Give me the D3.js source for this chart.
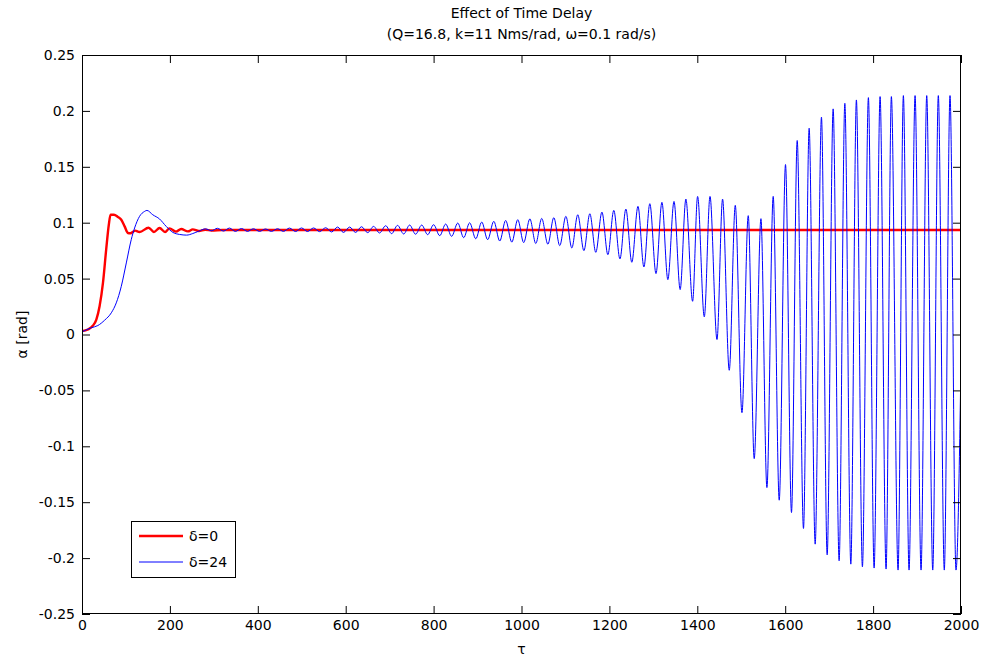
<!DOCTYPE html>
<html><head><meta charset="utf-8">
<script src="https://cdn.jsdelivr.net/npm/d3@7"></script>
<style>
html,body{margin:0;padding:0;background:#fff;}
svg{display:block;font-family:"DejaVu Sans",Verdana,sans-serif;}
</style></head>
<body>
<svg id="chart" width="985" height="659"></svg>
<script>
// ---- data ----
const xTicks = [0, 200, 400, 600, 800, 1000, 1200, 1400, 1600, 1800, 2000];
const yTicks = [-0.25, -0.2, -0.15, -0.1, -0.05, 0, 0.05, 0.1, 0.15, 0.2, 0.25];
const yTickLabels = ["-0.25", "-0.2", "-0.15", "-0.1", "-0.05", "0", "0.05", "0.1", "0.15", "0.2", "0.25"];
const seriesNames = ["\u03B4=0", "\u03B4=24"];

// delta = 0 (red)
const redT = [0, 13.6, 25, 32.6, 40, 47.7, 55, 61, 65, 72.7, 81.8, 89.4, 97, 104.5, 110, 121, 131,
  151.5, 163.6, 176.5, 189, 199, 214, 225.7, 241, 252, 266, 280, 295, 320, 2000];
const redV = [0.003, 0.0045, 0.008, 0.0134, 0.0253, 0.0462, 0.0759, 0.0982, 0.1071, 0.1071, 0.1051, 0.1027, 0.0967, 0.0908, 0.0905, 0.0929, 0.0917,
  0.0955, 0.0917, 0.0953, 0.0917, 0.0949, 0.0920, 0.0944, 0.0922, 0.0940, 0.0926, 0.0937, 0.0930, 0.0935, 0.0935];

// delta = 24 (blue) : start-up then successive peaks / troughs
const blueT = [0, 21, 36, 51.5, 66.7, 78, 89.4, 100.8, 112, 119.7, 131, 142.4, 147.7, 161, 176.5, 191.6, 206.8, 222, 238, 252, 266,
  281, 294.5, 308, 322, 335.5, 349, 363, 376.5, 390, 404, 417.5, 431, 445, 458.5, 472, 486, 499.5, 513, 527, 540.5,
  554.5, 568, 581.5, 595, 609, 622.5, 636, 650, 663.5, 677, 691, 704.5, 718, 732, 745.5, 759, 773, 786.5, 800, 814,
  827.5, 841, 855, 868.5, 882, 896, 909.5, 923, 937, 950.5, 964, 978, 991.5, 1005, 1019, 1032.5, 1046, 1060,
  1073.5, 1087, 1101, 1114.5, 1128, 1142, 1155.5, 1169, 1183, 1196.5, 1210, 1224, 1237.5, 1251, 1265, 1278.5,
  1292, 1306, 1319.5, 1333, 1347, 1361, 1374, 1389.3, 1400.7, 1415.9, 1428.9, 1444.8, 1457.5, 1472.7, 1486.4, 1501.6,
  1515.9, 1529.5, 1544.8, 1558.4, 1572.7, 1586.4, 1600.7, 1614.3, 1627.3, 1641.6, 1654.5, 1668.2, 1682.5, 1695.5,
  1709.1, 1722.7, 1735.7, 1749.3, 1762.0, 1775.7, 1789.3, 1802.3, 1815.9, 1829.5, 1841.6, 1856.8, 1868.9, 1881.8,
  1895.5, 1909.1, 1922.0, 1935.7, 1948.4, 1962.0, 1975.0, 1988.6, 2000];
const blueV = [0.0024, 0.006, 0.008, 0.0128, 0.0194, 0.0283, 0.0431, 0.064, 0.0848, 0.0953, 0.1057, 0.1101, 0.111, 0.1071, 0.1033, 0.0967, 0.0913, 0.0895, 0.0889, 0.0903, 0.0925,
  0.0945, 0.0928, 0.0950, 0.0925, 0.0952, 0.0922, 0.0948, 0.0922, 0.0946, 0.0922, 0.0944, 0.0922, 0.0946, 0.0922, 0.0952, 0.0921, 0.0953, 0.0921, 0.0953, 0.0920,
  0.0955, 0.0917, 0.0961, 0.0913, 0.0961, 0.0913, 0.0964, 0.0911, 0.0967, 0.0908, 0.0973, 0.0902, 0.0976, 0.0899, 0.0979, 0.0897, 0.0979, 0.0893, 0.0982, 0.0884,
  0.0988, 0.0878, 0.0997, 0.0866, 0.0999, 0.0856, 0.1006, 0.0848, 0.1012, 0.0836, 0.1020, 0.0826, 0.1027, 0.0822, 0.1034, 0.0814, 0.1038, 0.0808,
  0.1045, 0.0795, 0.1057, 0.0774, 0.1071, 0.0750, 0.1080, 0.0735, 0.1095, 0.0714, 0.1110, 0.0676, 0.1122, 0.0646, 0.1146, 0.0604,
  0.1170, 0.0545, 0.1182, 0.0491, 0.1190, 0.0402, 0.1211, 0.0297, 0.1235, 0.0158, 0.1235, -0.0045, 0.1211, -0.032, 0.1155, -0.0699,
  0.1063, -0.111, 0.1036, -0.1369, 0.1235, -0.1482, 0.152, -0.1592, 0.1735, -0.1735, 0.1845, -0.1875, 0.1944, -0.1971,
  0.2018, -0.2024, 0.2068, -0.2054, 0.2098, -0.2078, 0.2119, -0.2089, 0.2128, -0.2098, 0.2128, -0.2107, 0.2137, -0.2107,
  0.2137, -0.2107, 0.2137, -0.2107, 0.2137, -0.2107, 0.2137, -0.2107, -0.025];

// ---- layout ----
const L = 82, R = 961, T = 55, B = 614;
const svg = d3.select("#chart");
const x = d3.scaleLinear().domain([0, 2000]).range([L, R]);
const y = d3.scaleLinear().domain([-0.25, 0.25]).range([B, T]);

svg.append("defs").append("clipPath").attr("id", "clip")
  .append("rect").attr("x", L).attr("y", T).attr("width", R - L).attr("height", B - T);

// data lines
const line = d3.line().x(d => x(d[0])).y(d => y(d[1])).curve(d3.curveMonotoneX);
const redData = redT.map((t, i) => [t, redV[i]]);
const blueData = blueT.map((t, i) => [t, blueV[i]]);
const plot = svg.append("g").attr("clip-path", "url(#clip)");
plot.append("path").datum(redData).attr("d", line)
  .attr("fill", "none").attr("stroke", "#ff0000").attr("stroke-width", 2.4).attr("stroke-linejoin", "round");
plot.append("path").datum(blueData).attr("d", line)
  .attr("fill", "none").attr("stroke", "#0000ff").attr("stroke-width", 1).attr("stroke-linejoin", "round");

// axes
const fs = 14;
function style(g) {
  g.select(".domain").remove();
  g.selectAll(".tick line").attr("stroke", "#000");
  g.selectAll("text").attr("fill", "#000").style("font-size", fs + "px").style("font-family", "DejaVu Sans, Verdana, sans-serif");
}
svg.append("g").attr("transform", `translate(0,${B})`)
  .call(d3.axisBottom(x).tickValues(xTicks).tickSizeInner(-8).tickSizeOuter(0).tickPadding(6).tickFormat(d3.format("d")))
  .call(style);
svg.append("g").attr("transform", `translate(0,${T})`)
  .call(d3.axisTop(x).tickValues(xTicks).tickSizeInner(-8).tickSizeOuter(0).tickFormat(""))
  .call(style);
svg.append("g").attr("transform", `translate(${L},0)`)
  .call(d3.axisLeft(y).tickValues(yTicks).tickSizeInner(-8).tickSizeOuter(0).tickPadding(7)
    .tickFormat((d, i) => yTickLabels[i]))
  .call(style);
svg.append("g").attr("transform", `translate(${R},0)`)
  .call(d3.axisRight(y).tickValues(yTicks).tickSizeInner(-8).tickSizeOuter(0).tickFormat(""))
  .call(style);
svg.append("rect").attr("x", L + 0.5).attr("y", T + 0.5).attr("width", R - L - 1).attr("height", B - T - 1)
  .attr("fill", "none").attr("stroke", "#000").attr("stroke-width", 1);

// titles
svg.append("text").attr("x", (L + R) / 2).attr("y", 18).attr("text-anchor", "middle")
  .style("font-size", "14px").text("Effect of Time Delay");
svg.append("text").attr("x", (L + R) / 2).attr("y", 38.5).attr("text-anchor", "middle")
  .style("font-size", "14px").text("(Q=16.8, k=11 Nms/rad, \u03C9=0.1 rad/s)");
svg.append("text").attr("x", (L + R) / 2).attr("y", 654).attr("text-anchor", "middle")
  .style("font-size", "14px").text("\u03C4");
svg.append("text").attr("transform", `translate(27,${(T + B) / 2}) rotate(-90)`).attr("text-anchor", "middle")
  .style("font-size", "14px").text("\u03B1  [rad]");

// legend
const lg = svg.append("g");
lg.append("rect").attr("x", 131.5).attr("y", 521.5).attr("width", 104).attr("height", 56)
  .attr("fill", "#fff").attr("stroke", "#000").attr("stroke-width", 1);
const lgColors = ["#ff0000", "#0000ff"], lgWidths = [2.4, 1], lgY = [536, 562];
seriesNames.forEach((nm, i) => {
  lg.append("line").attr("x1", 139).attr("x2", 183).attr("y1", lgY[i]).attr("y2", lgY[i])
    .attr("stroke", lgColors[i]).attr("stroke-width", lgWidths[i]);
  lg.append("text").attr("x", 189).attr("y", lgY[i] + 5).style("font-size", "14px").text(nm);
});
</script>
</body></html>
